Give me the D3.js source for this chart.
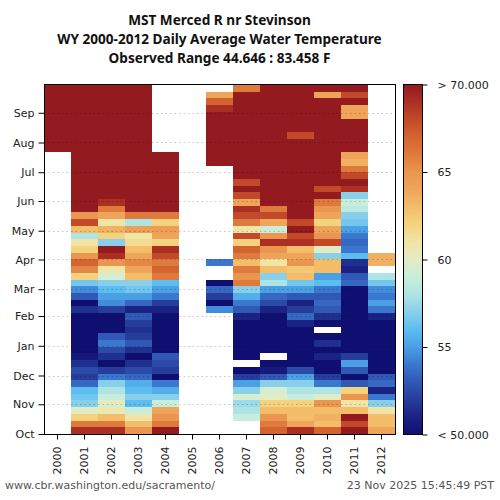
<!DOCTYPE html>
<html>
<head>
<meta charset="utf-8">
<script src="https://cdn.jsdelivr.net/npm/d3@7"></script>
<style>
body { margin: 0; background: #fff; }
svg { display: block; }
text { font-family: "DejaVu Sans", sans-serif; }
</style>
</head>
<body>
<svg id="chart" width="500" height="500"></svg>
<script>
/****** Data *******/
const _ = null;   // no observation
const years = [2000, 2001, 2002, 2003, 2004, 2005, 2006, 2007, 2008, 2009, 2010, 2011, 2012];
const months = ["Oct", "Nov", "Dec", "Jan", "Feb", "Mar", "Apr", "May", "Jun", "Jul", "Aug", "Sep"];
const monthStart = [0, 31, 61, 92, 123, 151, 182, 212, 243, 273, 304, 335]; // day of water year
const titleLines = ["MST Merced R nr Stevinson", "WY 2000-2012 Daily Average Water Temperature", "Observed Range 44.646 : 83.458 F"];
const colorTicks = [70, 65, 60, 55, 50];
const colorTickLabels = ["> 70.000", "65", "60", "55", "< 50.000"];
const tempStops = [50, 51, 52, 53, 54, 55, 56, 57, 58, 59, 60, 61, 62, 63, 64, 65, 66, 67, 68, 69, 70];
const tempColors = ["#0f0f72", "#1a2283", "#263d9c", "#3158b5", "#3a78d0", "#4a9fe5", "#5cbdf0", "#8acfea",
    "#afe4e4", "#c8eedb", "#e2ecc4", "#f0e5a6", "#f5d37e", "#f3bd6a", "#eea55a", "#ea9650",
    "#df7a3d", "#d4642f", "#c24a28", "#ab3023", "#931a1f"];

// weekly mean temperature (F), week 0 starts Oct 1
const year2000 = [
    _, _, _, _, _, _, _, _, _, _,
    _, _, _, _, _, _, _, _, _, _,
    _, _, _, _, _, _, _, _, _, _,
    _, _, _, _, _, _, _, _, _, _,
    _, _, 72, 73, 74, 74, 73, 72, 70, 72,
    72, 71];
const year2001 = [
    69, 66, 62, 60, 57, 56.5, 56, 53.5, 52, 52.5,
    51.5, 50.5, 49.5, 49, 49.5, 49, 49, 49.5, 51.5, 50,
    53, 54.5, 56.5, 62, 65.5, 67, 65, 62, 61, 58,
    63, 68, 65, 70, 72, 73, 74, 75, 75, 76,
    76, 77, 77, 76, 76, 75, 74, 73, 72, 72,
    71, 72];
const year2002 = [
    69, 66, 63, 60.5, 60, 59, 58, 57, 54, 52,
    50, 51.5, 52.5, 54, 53, 50, 49.5, 49.5, 52, 54.5,
    55, 56, 57, 59.5, 61, 65, 69, 70, 57, 62,
    63.5, 61, 64, 66, 69, 72, 73, 74, 75, 76,
    76, 77, 76, 76, 75, 74, 74, 73, 72, 72,
    71, 71];
const year2003 = [
    65, 63, 61, 59, 56, 57, 56, 55.5, 53.5, 52.5,
    51.5, 50, 51.5, 53, 52, 51.5, 52, 53, 51, 53.5,
    55, 56.5, 57, 63, 64, 65.5, 64, 63, 61.5, 61,
    64.5, 58, 66, 71, 72, 73, 74, 75, 75, 76,
    76, 76, 76, 75, 75, 74, 73, 72, 72, 72,
    71, 71];
const year2004 = [
    70, 66, 65, 64, 59, 57, 55.5, 54, 50, 52,
    52.5, 53, 50, 49, 49, 49.5, 49, 50, 51, 52,
    54, 55, 56, 66, 67, 66, 68, 69, 62, 64,
    64.5, 62, 66, 70, 72, 73, 74, 75, 75, 76,
    76, 76, _, _, _, _, _, _, _, _,
    _, _];
const year2005 = [
    _, _, _, _, _, _, _, _, _, _,
    _, _, _, _, _, _, _, _, _, _,
    _, _, _, _, _, _, _, _, _, _,
    _, _, _, _, _, _, _, _, _, _,
    _, _, _, _, _, _, _, _, _, _,
    _, _];
const year2006 = [
    _, _, _, _, _, _, _, _, _, _,
    _, _, _, _, _, _, _, _, 54.5, 50,
    52, 53.5, 50, _, _, 54, _, _, _, _,
    _, _, _, _, _, _, _, _, _, _,
    72, 73, 74, 74, 73, 72, 71, 70, 69, 67,
    64, _];
const year2007 = [
    _, _, 59, 58, 57.5, 59.5, 57, 55, 52, 49.5,
    _, 49, 49, 49, 49, 49, 49.5, 51, 53, 54,
    55.5, 57, 66, 65, 66, 63, 66, 67, 62, 68,
    61, 66, 68, 69, 64, 68, 70, 68, 72, 73,
    74, 74, 75, 75, 76, 76, 75, 74, 73, 72,
    70, 66];
const year2008 = [
    67, 66, 65, 63, 62, 60, 59.5, 57, 53, 50.5,
    49.5, _, 49, 49, 50, 49.5, 49, 49.5, 51, 52.5,
    53.5, 55, 58, 57, 63, 61, 64, 65, 69, 65,
    59, 64, 68, 66, 72, 73, 74, 75, 75, 76,
    76, 77, 76, 76, 75, 75, 74, 73, 72, 72,
    72, 71];
const year2009 = [
    69, 64, 63, 63, 62, 59, 58, 57, 55, 52.5,
    49.5, 49, 49, 49, 49.5, 49.5, 51, 53.5, 52, 51,
    53, 55, 56.5, 63, 62.5, 65, 64, 63, 69, 68,
    70, 68, 72, 73, 74, 75, 75, 76, 76, 77,
    70, 76, 76, 75, 68, 70, 73, 72, 72, 72,
    71, 72];
const year2010 = [
    67, 63, 63.5, 63, 65, 60, 58, 54, 52, 49.5,
    49.5, 51, 49.5, 51.5, 49.5, _, 49.5, 51.5, 53, 53.5,
    53, 54, 56, 55, 63, 63, 57, 60, 68, 65,
    64, 62, 64, 65, 66, 70, 68, 72, 73, 74,
    75, 75, 76, 76, 75, 75, 74, 73, 72, 72,
    64, 70];
const year2011 = [
    71, 68, 70, 63, 61, 65, 62, 53, 50, 53,
    55, 52, 49, 49, 49, 49, 49.5, 49, 49, 49.5,
    49, 50, 53.5, 53, 51, 51.5, 56, 54, 53.5, 54,
    55, 56.5, 57, 58.5, 59, 57, 69, 70, 68, 66,
    63.5, 64, 72, 73, 74, 74, 71, 64, 64, 72,
    68, 70];
const year2012 = [
    64, 63, 63, 61, 57, 54, 51, 53.5, 53, 49,
    49, 49, 49, 49, 49, 49, 49, 51, 54, 55,
    54, 54.5, 56.5, 58, _, 63.5, 63.5, _, _, _,
    _, _, _, _, _, _, _, _, _, _,
    _, _, _, _, _, _, _, _, _, _,
    _, _];
const series = [year2000, year2001, year2002, year2003, year2004, year2005, year2006,
    year2007, year2008, year2009, year2010, year2011, year2012];

/****** Chart *******/
var svg = d3.select("#chart");
var plot = {left: 44, right: 395, top: 84, bottom: 434};

var x = d3.scaleBand().domain(years).range([plot.left, plot.right]);
var y = d3.scaleLinear().domain([0, 365]).range([plot.bottom, plot.top]);
var color = d3.scaleLinear().domain(tempStops).range(tempColors).clamp(true);

// one cell per week
var cells = [];
series.forEach(function (vals, j) {
    vals.forEach(function (v, i) {
        if (v === null) return;
        cells.push({
            year: years[j],
            start: i * 7,
            end: i === vals.length - 1 ? 365 : i * 7 + 7,
            value: v
        });
    });
});

svg.append("g").selectAll("rect")
    .data(cells)
    .enter().append("rect")
    .attr("x", d => x(d.year))
    .attr("width", x.bandwidth())
    .attr("y", d => Math.round(y(d.end)))
    .attr("height", d => Math.round(y(d.start)) - Math.round(y(d.end)))
    .attr("fill", d => color(d.value))
    .attr("shape-rendering", "crispEdges");

// dotted month grid
svg.append("g").selectAll("line")
    .data(monthStart.slice(1))
    .enter().append("line")
    .attr("x1", plot.left).attr("x2", plot.right)
    .attr("y1", d => Math.round(y(d)) + 0.5).attr("y2", d => Math.round(y(d)) + 0.5)
    .attr("stroke", "#000")
    .attr("stroke-opacity", 0.22)
    .attr("stroke-dasharray", "1.5,3");

svg.append("rect")
    .attr("x", plot.left + 0.5).attr("y", plot.top + 0.5)
    .attr("width", plot.right - plot.left).attr("height", plot.bottom - plot.top)
    .attr("fill", "none").attr("stroke", "#000");

// axes
var yAxis = svg.append("g")
    .attr("transform", "translate(" + (plot.left + 0.5) + ",0)")
    .call(d3.axisLeft(y).tickValues(monthStart).tickFormat((d, i) => months[i]).tickSize(6).tickPadding(4));
yAxis.select(".domain").remove();

var xAxis = svg.append("g")
    .attr("transform", "translate(0," + (plot.bottom + 0.5) + ")")
    .call(d3.axisBottom(x).tickSize(5).tickPadding(3));
xAxis.select(".domain").remove();
xAxis.selectAll("text")
    .attr("transform", "rotate(-90)")
    .attr("text-anchor", "end")
    .attr("x", -12)
    .attr("y", 0)
    .attr("dy", "0.35em");

svg.selectAll(".tick text").attr("font-size", 11).attr("fill", "#222");

// colour bar
var grad = svg.append("defs").append("linearGradient")
    .attr("id", "cbar").attr("x1", 0).attr("y1", 1).attr("x2", 0).attr("y2", 0);
grad.selectAll("stop")
    .data(tempStops)
    .enter().append("stop")
    .attr("offset", d => (d - 50) / 20)
    .attr("stop-color", d => color(d));

var cb = {left: 403, width: 19};
svg.append("rect")
    .attr("x", cb.left + 0.5).attr("y", plot.top + 0.5)
    .attr("width", cb.width).attr("height", plot.bottom - plot.top)
    .attr("fill", "url(#cbar)").attr("stroke", "#000");

var cScale = d3.scaleLinear().domain([50, 70]).range([plot.bottom, plot.top]);
var cAxis = svg.append("g")
    .attr("transform", "translate(" + (cb.left + cb.width + 0.5) + ",0.5)")
    .call(d3.axisRight(cScale).tickValues(colorTicks).tickFormat((d, i) => colorTickLabels[i]).tickSize(5).tickPadding(10));
cAxis.select(".domain").remove();
cAxis.selectAll("text").attr("font-size", 11).attr("fill", "#222");

// titles
svg.append("g").selectAll("text")
    .data(titleLines)
    .enter().append("text")
    .attr("x", (plot.left + plot.right) / 2)
    .attr("y", (d, i) => 25 + i * 19)
    .attr("text-anchor", "middle")
    .style("font-family", "'Noto Sans', sans-serif")
    .attr("font-size", 13.6)
    .attr("font-weight", "bold")
    .attr("fill", "#111")
    .text(d => d);

svg.append("text")
    .attr("x", 5).attr("y", 489)
    .attr("font-size", 11).attr("fill", "#555")
    .text("www.cbr.washington.edu/sacramento/");
svg.append("text")
    .attr("x", 494).attr("y", 489)
    .attr("text-anchor", "end")
    .attr("font-size", 11).attr("fill", "#555")
    .text("23 Nov 2025 15:45:49 PST");
</script>
</body>
</html>
